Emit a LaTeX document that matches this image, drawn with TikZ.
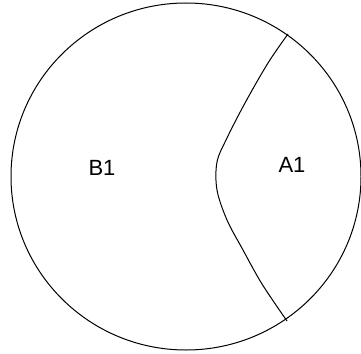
\documentclass[tikz,border=0pt]{standalone}
\usepackage{fontspec}
\setmainfont{Liberation Sans}
\begin{document}
\begin{tikzpicture}[x=1pt,y=-1pt,
  outline/.style={draw=black,line width=1pt},
  region/.style={font=\fontsize{22}{26}\selectfont,inner sep=0pt}]
\useasboundingbox (0,0) rectangle (361,353);
\draw[outline] (186,176.5) ellipse [x radius=175, y radius=173.5];
\coordinate (top) at (288,34);
\coordinate (bot) at (287,321);
\draw[outline] plot[smooth,tension=0.55] coordinates {(top) (268,63) (245,103) (227,138) (217,162) (217,190) (227,220) (243,250) (262,284) (bot)};
\node[region] (B1) at (102,168) {B1};
\node[region] (A1) at (292,165) {A1};
\end{tikzpicture}
\end{document}
